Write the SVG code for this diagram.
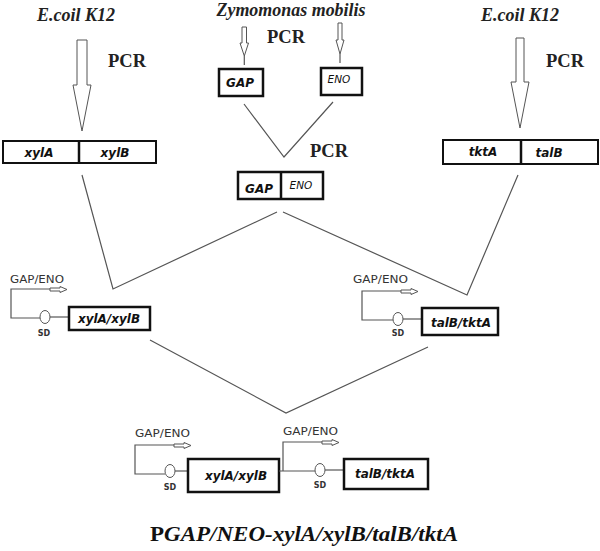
<svg xmlns="http://www.w3.org/2000/svg" width="600" height="551" viewBox="0 0 600 551">
<style>
.src{font-family:"Liberation Serif","Times New Roman",serif;font-weight:bold;font-style:italic;font-size:18px;fill:#222;text-anchor:middle}
.pcr{font-family:"Liberation Serif","Times New Roman",serif;font-weight:bold;font-size:18.5px;fill:#222}
.gene{font-family:"DejaVu Sans",Verdana,sans-serif;font-weight:bold;font-style:italic;font-size:12px;fill:#111;text-anchor:middle}
.geneR{font-family:"DejaVu Sans",Verdana,sans-serif;font-style:italic;font-size:10.5px;fill:#111;text-anchor:middle}
.prom{font-family:"DejaVu Sans",Verdana,sans-serif;font-size:10px;fill:#333}
.sd{font-family:"DejaVu Sans",Verdana,sans-serif;font-weight:bold;font-size:8px;fill:#333;text-anchor:middle}
.box{fill:#fff;stroke:#111;stroke-width:2}
.boxT{fill:#fff;stroke:#111;stroke-width:2.5}
.div{stroke:#111;stroke-width:2.5}
.ln{fill:none;stroke:#555;stroke-width:1.2}
.harr{fill:#fff;stroke:#555;stroke-width:1}
.sdc{fill:#fff;stroke:#555;stroke-width:1}
.title{font-family:"Liberation Serif","Times New Roman",serif;font-weight:bold;font-size:21px;fill:#111}
</style>

<g id="labels-top">
<text class="src" x="76" y="21">E.coil K12</text>
<text class="src" x="291" y="16" font-size="17.5" textLength="149" lengthAdjust="spacingAndGlyphs">Zymomonas mobilis</text>
<text class="src" x="520" y="21">E.coil K12</text>
<text class="pcr" x="108" y="67">PCR</text>
<text class="pcr" x="267" y="43">PCR</text>
<text class="pcr" x="310" y="157">PCR</text>
<text class="pcr" x="546" y="67">PCR</text>
</g>

<g id="arrows-pcr">
<polygon class="harr" points="77,40 87,40 87,85 91,85 82,131 73,85 77,85"/>
<polygon class="harr" points="516,38 524,38 524,82 529,82 520,128 511,82 516,82"/>
<polygon class="harr" points="242,27 246.5,27 246.5,43 248.5,43 244.3,56 240,43 242,43"/>
<line class="ln" x1="244.3" y1="56" x2="244.3" y2="65"/>
<polygon class="harr" points="338,23 342,23 342,40 344,40 340,54 336,40 338,40"/>
<line class="ln" x1="340" y1="54" x2="340" y2="63"/>
</g>

<g id="node-xylA-xylB">
<rect class="box" x="3" y="141" width="153" height="22"/>
<line class="div" x1="79" y1="141" x2="79" y2="163"/>
<text class="gene" x="39" y="157">xylA</text>
<text class="gene" x="115" y="157">xylB</text>
</g>

<g id="node-tktA-talB">
<rect class="box" x="443" y="140" width="155" height="24"/>
<line class="div" x1="521" y1="140" x2="521" y2="164"/>
<text class="gene" x="483" y="156">tktA</text>
<text class="gene" x="549" y="157">talB</text>
</g>

<g id="node-GAP">
<rect class="boxT" x="219" y="69" width="44" height="27"/>
<text class="gene" x="240" y="87">GAP</text>
</g>

<g id="node-ENO">
<rect class="boxT" x="321" y="68" width="41" height="27"/>
<text class="geneR" x="339" y="83">ENO</text>
</g>

<g id="node-GAP-ENO">
<rect class="boxT" x="238" y="172" width="85" height="27"/>
<line class="div" x1="281" y1="172" x2="281" y2="199"/>
<text class="gene" x="259" y="193">GAP</text>
<text class="geneR" x="301" y="189">ENO</text>
</g>

<g id="connectors">
<polyline class="ln" points="244,104 284,157 333,102"/>
<polyline class="ln" points="82,175 113,289 277,212"/>
<polyline class="ln" points="283,212 467,295 518,175"/>
<polyline class="ln" points="150,340 286,413 428,347"/>
</g>

<g id="node-xylA-xylB-construct">
<text class="prom" x="10" y="283" textLength="54" lengthAdjust="spacingAndGlyphs">GAP/ENO</text>
<polyline class="ln" points="59,289 11,289 11,318 40,318"/>
<polygon class="harr" points="50,288 60,288 60,286.5 67,289.5 60,292.5 60,291 50,291"/>
<ellipse class="sdc" cx="45" cy="317" rx="5" ry="6.5"/>
<line class="ln" x1="50" y1="317" x2="68" y2="317"/>
<text class="sd" x="44" y="336">SD</text>
<rect class="boxT" x="69" y="307" width="81" height="23"/>
<text class="gene" x="109" y="323">xylA/xylB</text>
</g>

<g id="node-talB-tktA-construct">
<text class="prom" x="353" y="283" textLength="55" lengthAdjust="spacingAndGlyphs">GAP/ENO</text>
<polyline class="ln" points="402,291 362,291 362,320 393,320"/>
<polygon class="harr" points="401,290 411,290 411,288.5 418,291.5 411,294.5 411,293 401,293"/>
<ellipse class="sdc" cx="398" cy="319" rx="5" ry="6.5"/>
<line class="ln" x1="403" y1="319" x2="421" y2="319"/>
<text class="sd" x="398" y="336">SD</text>
<rect class="boxT" x="422" y="308" width="76" height="27"/>
<text class="gene" x="461" y="327">talB/tktA</text>
</g>

<g id="node-final-construct">
<text class="prom" x="135" y="437" textLength="55" lengthAdjust="spacingAndGlyphs">GAP/ENO</text>
<polyline class="ln" points="175,445 135,445 135,474 165,474"/>
<polygon class="harr" points="174,444 184,444 184,442.5 191,445.5 184,448.5 184,447 174,447"/>
<ellipse class="sdc" cx="170" cy="471" rx="5" ry="6.5"/>
<line class="ln" x1="175" y1="471" x2="188" y2="471"/>
<text class="sd" x="170" y="490">SD</text>
<rect class="boxT" x="188" y="459" width="91" height="33"/>
<text class="gene" x="236" y="480">xylA/xylB</text>

<text class="prom" x="283" y="435" textLength="55" lengthAdjust="spacingAndGlyphs">GAP/ENO</text>
<polyline class="ln" points="324,442 283,442 283,471"/>
<polygon class="harr" points="322,441 332,441 332,439.5 339,442.5 332,445.5 332,444 322,444"/>
<line class="ln" x1="279" y1="471" x2="315" y2="471"/>
<ellipse class="sdc" cx="320" cy="470" rx="5" ry="6.5"/>
<line class="ln" x1="325" y1="470" x2="343" y2="470"/>
<text class="sd" x="320" y="488">SD</text>
<rect class="boxT" x="344" y="459" width="84" height="30"/>
<text class="gene" x="385" y="478">talB/tktA</text>
</g>

<g id="title">
<text class="title" x="150" y="541" textLength="308" lengthAdjust="spacingAndGlyphs">P<tspan font-style="italic">GAP/NEO-xylA/xylB/talB/tktA</tspan></text>
</g>
</svg>
